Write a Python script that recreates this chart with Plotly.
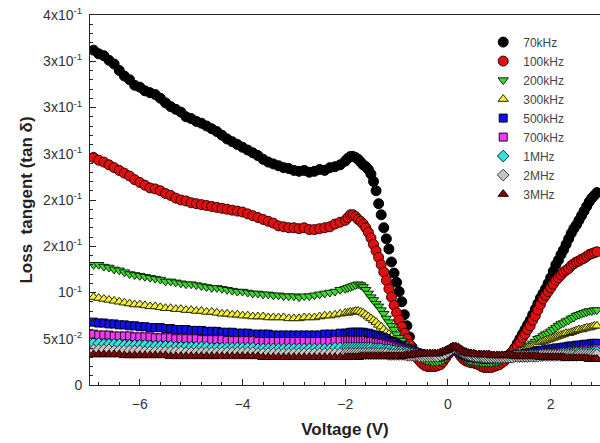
import plotly.graph_objects as go

# Bias sweep (V): 0.1 V steps up to -2.0 V, then 0.05 V steps
voltage = [
    -6.9, -6.8, -6.7, -6.6, -6.5, -6.4, -6.3, -6.2, -6.1, -6.0,
    -5.9, -5.8, -5.7, -5.6, -5.5, -5.4, -5.3, -5.2, -5.1, -5.0,
    -4.9, -4.8, -4.7, -4.6, -4.5, -4.4, -4.3, -4.2, -4.1, -4.0,
    -3.9, -3.8, -3.7, -3.6, -3.5, -3.4, -3.3, -3.2, -3.1, -3.0,
    -2.9, -2.8, -2.7, -2.6, -2.5, -2.4, -2.3, -2.2, -2.1, -2.0,
    -1.95, -1.90, -1.85, -1.80, -1.75, -1.70, -1.65, -1.60, -1.55, -1.50,
    -1.45, -1.40, -1.35, -1.30, -1.25, -1.20, -1.15, -1.10, -1.05, -1.00,
    -0.95, -0.90, -0.85, -0.80, -0.75, -0.70, -0.65, -0.60, -0.55, -0.50,
    -0.45, -0.40, -0.35, -0.30, -0.25, -0.20, -0.15, -0.10, -0.05, 0.00,
    0.05, 0.10, 0.15, 0.20, 0.25, 0.30, 0.35, 0.40, 0.45, 0.50,
    0.55, 0.60, 0.65, 0.70, 0.75, 0.80, 0.85, 0.90, 0.95, 1.00,
    1.05, 1.10, 1.15, 1.20, 1.25, 1.30, 1.35, 1.40, 1.45, 1.50,
    1.55, 1.60, 1.65, 1.70, 1.75, 1.80, 1.85, 1.90, 1.95, 2.00,
    2.05, 2.10, 2.15, 2.20, 2.25, 2.30, 2.35, 2.40, 2.45, 2.50,
    2.55, 2.60, 2.65, 2.70, 2.75, 2.80, 2.85, 2.90,
]

tan_70k = [
    0.362, 0.358, 0.356, 0.351, 0.347, 0.340, 0.334, 0.330, 0.324, 0.322,
    0.318, 0.316, 0.314, 0.310, 0.305, 0.301, 0.298, 0.295, 0.290, 0.288,
    0.285, 0.283, 0.280, 0.277, 0.274, 0.270, 0.266, 0.263, 0.260, 0.257,
    0.254, 0.251, 0.248, 0.244, 0.241, 0.239, 0.237, 0.235, 0.234, 0.232,
    0.231, 0.232, 0.230, 0.231, 0.233, 0.232, 0.235, 0.236, 0.238, 0.242,
    0.245, 0.247, 0.247, 0.246, 0.244, 0.241, 0.238, 0.236, 0.233, 0.228,
    0.220, 0.210, 0.196, 0.184, 0.170, 0.158, 0.147, 0.133, 0.121, 0.111,
    0.101, 0.090, 0.076, 0.064, 0.052, 0.041, 0.034, 0.030, 0.027, 0.025,
    0.024, 0.023, 0.022, 0.022, 0.022, 0.023, 0.024, 0.026, 0.030, 0.034,
    0.038, 0.040, 0.039, 0.036, 0.032, 0.029, 0.027, 0.026, 0.025, 0.024,
    0.023, 0.022, 0.021, 0.020, 0.020, 0.020, 0.021, 0.022, 0.024, 0.026,
    0.028, 0.030, 0.031, 0.033, 0.036, 0.040, 0.045, 0.050, 0.055, 0.060,
    0.065, 0.070, 0.076, 0.082, 0.088, 0.094, 0.099, 0.104, 0.110, 0.116,
    0.123, 0.130, 0.135, 0.141, 0.146, 0.152, 0.158, 0.164, 0.169, 0.173,
    0.178, 0.183, 0.188, 0.193, 0.198, 0.202, 0.205, 0.208,
]

tan_100k = [
    0.246, 0.243, 0.241, 0.238, 0.235, 0.232, 0.229, 0.226, 0.222, 0.219,
    0.216, 0.213, 0.212, 0.210, 0.207, 0.205, 0.202, 0.200, 0.199, 0.197,
    0.196, 0.195, 0.194, 0.193, 0.192, 0.191, 0.190, 0.189, 0.188, 0.187,
    0.185, 0.183, 0.181, 0.179, 0.177, 0.175, 0.172, 0.171, 0.170, 0.170,
    0.169, 0.170, 0.168, 0.168, 0.169, 0.170, 0.171, 0.174, 0.176, 0.178,
    0.181, 0.184, 0.184, 0.182, 0.179, 0.177, 0.174, 0.170, 0.165, 0.159,
    0.152, 0.145, 0.138, 0.130, 0.122, 0.113, 0.104, 0.095, 0.086, 0.078,
    0.070, 0.063, 0.056, 0.050, 0.044, 0.038, 0.033, 0.029, 0.026, 0.023,
    0.021, 0.020, 0.020, 0.020, 0.020, 0.021, 0.022, 0.025, 0.029, 0.033,
    0.037, 0.039, 0.038, 0.035, 0.031, 0.028, 0.026, 0.025, 0.024, 0.024,
    0.023, 0.022, 0.020, 0.019, 0.019, 0.019, 0.019, 0.020, 0.021, 0.022,
    0.024, 0.026, 0.029, 0.032, 0.035, 0.039, 0.042, 0.046, 0.051, 0.055,
    0.060, 0.064, 0.070, 0.075, 0.081, 0.087, 0.093, 0.097, 0.101, 0.105,
    0.109, 0.113, 0.116, 0.119, 0.122, 0.124, 0.126, 0.129, 0.131, 0.133,
    0.134, 0.136, 0.137, 0.139, 0.141, 0.142, 0.143, 0.144,
]

tan_200k = [
    0.130, 0.130, 0.128, 0.127, 0.125, 0.124, 0.122, 0.120, 0.119, 0.118,
    0.117, 0.116, 0.115, 0.114, 0.112, 0.112, 0.111, 0.110, 0.109, 0.109,
    0.108, 0.107, 0.106, 0.105, 0.105, 0.104, 0.103, 0.102, 0.101, 0.101,
    0.100, 0.099, 0.099, 0.098, 0.098, 0.097, 0.097, 0.096, 0.096, 0.096,
    0.095, 0.096, 0.096, 0.097, 0.098, 0.099, 0.100, 0.101, 0.103, 0.104,
    0.105, 0.106, 0.107, 0.108, 0.109, 0.108, 0.106, 0.103, 0.099, 0.095,
    0.092, 0.088, 0.085, 0.081, 0.077, 0.072, 0.068, 0.064, 0.060, 0.055,
    0.051, 0.048, 0.044, 0.041, 0.038, 0.035, 0.033, 0.031, 0.029, 0.028,
    0.027, 0.026, 0.026, 0.025, 0.025, 0.025, 0.026, 0.027, 0.029, 0.032,
    0.035, 0.037, 0.037, 0.035, 0.032, 0.030, 0.028, 0.027, 0.026, 0.026,
    0.025, 0.025, 0.024, 0.024, 0.024, 0.024, 0.024, 0.025, 0.025, 0.026,
    0.027, 0.028, 0.029, 0.031, 0.032, 0.033, 0.035, 0.036, 0.037, 0.039,
    0.041, 0.043, 0.045, 0.047, 0.050, 0.051, 0.053, 0.055, 0.056, 0.058,
    0.060, 0.062, 0.064, 0.066, 0.067, 0.069, 0.070, 0.072, 0.073, 0.075,
    0.076, 0.077, 0.078, 0.079, 0.080, 0.080, 0.081, 0.081,
]

tan_300k = [
    0.095, 0.094, 0.093, 0.092, 0.091, 0.090, 0.089, 0.088, 0.087, 0.087,
    0.086, 0.085, 0.085, 0.084, 0.083, 0.083, 0.082, 0.082, 0.081, 0.081,
    0.080, 0.080, 0.079, 0.079, 0.078, 0.077, 0.077, 0.076, 0.076, 0.075,
    0.075, 0.074, 0.074, 0.074, 0.073, 0.073, 0.073, 0.073, 0.072, 0.072,
    0.072, 0.073, 0.073, 0.073, 0.074, 0.075, 0.075, 0.076, 0.077, 0.078,
    0.078, 0.079, 0.079, 0.080, 0.080, 0.079, 0.078, 0.076, 0.074, 0.072,
    0.070, 0.068, 0.065, 0.063, 0.060, 0.057, 0.055, 0.052, 0.049, 0.047,
    0.045, 0.043, 0.041, 0.039, 0.037, 0.035, 0.034, 0.033, 0.032, 0.031,
    0.030, 0.029, 0.029, 0.028, 0.028, 0.028, 0.029, 0.030, 0.032, 0.034,
    0.036, 0.038, 0.038, 0.036, 0.034, 0.032, 0.030, 0.029, 0.028, 0.028,
    0.027, 0.027, 0.027, 0.026, 0.026, 0.026, 0.026, 0.027, 0.027, 0.028,
    0.028, 0.029, 0.030, 0.031, 0.032, 0.033, 0.034, 0.036, 0.037, 0.038,
    0.040, 0.041, 0.042, 0.043, 0.044, 0.046, 0.047, 0.048, 0.049, 0.050,
    0.051, 0.052, 0.053, 0.054, 0.055, 0.056, 0.056, 0.057, 0.058, 0.059,
    0.060, 0.060, 0.061, 0.062, 0.062, 0.063, 0.064, 0.064,
]

tan_500k = [
    0.068, 0.067, 0.067, 0.066, 0.066, 0.065, 0.065, 0.064, 0.064, 0.063,
    0.063, 0.062, 0.062, 0.062, 0.061, 0.061, 0.060, 0.060, 0.060, 0.059,
    0.059, 0.059, 0.058, 0.058, 0.058, 0.057, 0.057, 0.057, 0.056, 0.056,
    0.056, 0.055, 0.055, 0.055, 0.055, 0.054, 0.054, 0.054, 0.054, 0.054,
    0.054, 0.054, 0.054, 0.054, 0.054, 0.055, 0.055, 0.055, 0.056, 0.056,
    0.056, 0.057, 0.057, 0.057, 0.057, 0.057, 0.057, 0.056, 0.056, 0.055,
    0.054, 0.054, 0.053, 0.052, 0.051, 0.050, 0.048, 0.047, 0.046, 0.044,
    0.043, 0.042, 0.040, 0.039, 0.038, 0.037, 0.036, 0.035, 0.034, 0.033,
    0.032, 0.031, 0.031, 0.030, 0.030, 0.030, 0.031, 0.032, 0.033, 0.035,
    0.037, 0.039, 0.039, 0.037, 0.035, 0.033, 0.032, 0.031, 0.030, 0.030,
    0.029, 0.029, 0.029, 0.028, 0.028, 0.028, 0.028, 0.028, 0.029, 0.029,
    0.029, 0.030, 0.030, 0.031, 0.031, 0.032, 0.032, 0.033, 0.033, 0.034,
    0.034, 0.035, 0.035, 0.036, 0.036, 0.037, 0.037, 0.038, 0.038, 0.039,
    0.039, 0.040, 0.040, 0.040, 0.041, 0.041, 0.042, 0.042, 0.042, 0.043,
    0.043, 0.043, 0.044, 0.044, 0.044, 0.045, 0.045, 0.045,
]

tan_700k = [
    0.055, 0.054, 0.054, 0.054, 0.053, 0.053, 0.053, 0.053, 0.052, 0.052,
    0.052, 0.052, 0.051, 0.051, 0.051, 0.051, 0.050, 0.050, 0.050, 0.050,
    0.050, 0.049, 0.049, 0.049, 0.049, 0.049, 0.048, 0.048, 0.048, 0.048,
    0.048, 0.048, 0.047, 0.047, 0.047, 0.047, 0.047, 0.047, 0.047, 0.047,
    0.047, 0.047, 0.047, 0.047, 0.047, 0.047, 0.047, 0.048, 0.048, 0.048,
    0.048, 0.048, 0.048, 0.048, 0.048, 0.048, 0.048, 0.048, 0.047, 0.047,
    0.047, 0.046, 0.046, 0.045, 0.045, 0.044, 0.043, 0.043, 0.042, 0.041,
    0.040, 0.039, 0.038, 0.038, 0.037, 0.036, 0.035, 0.035, 0.034, 0.033,
    0.033, 0.032, 0.032, 0.031, 0.031, 0.031, 0.032, 0.033, 0.034, 0.036,
    0.038, 0.039, 0.039, 0.038, 0.036, 0.034, 0.033, 0.032, 0.031, 0.031,
    0.030, 0.030, 0.030, 0.029, 0.029, 0.029, 0.029, 0.029, 0.029, 0.030,
    0.030, 0.030, 0.030, 0.031, 0.031, 0.031, 0.031, 0.032, 0.032, 0.032,
    0.032, 0.033, 0.033, 0.033, 0.033, 0.034, 0.034, 0.034, 0.034, 0.035,
    0.035, 0.035, 0.035, 0.036, 0.036, 0.036, 0.036, 0.037, 0.037, 0.037,
    0.037, 0.037, 0.038, 0.038, 0.038, 0.038, 0.038, 0.039,
]

tan_1M = [
    0.045, 0.045, 0.044, 0.044, 0.044, 0.044, 0.043, 0.043, 0.043, 0.043,
    0.043, 0.042, 0.042, 0.042, 0.042, 0.042, 0.041, 0.041, 0.041, 0.041,
    0.041, 0.041, 0.041, 0.040, 0.040, 0.040, 0.040, 0.040, 0.040, 0.040,
    0.040, 0.040, 0.039, 0.039, 0.039, 0.039, 0.039, 0.039, 0.039, 0.039,
    0.039, 0.039, 0.039, 0.039, 0.039, 0.039, 0.039, 0.040, 0.040, 0.040,
    0.040, 0.040, 0.040, 0.040, 0.040, 0.040, 0.040, 0.040, 0.040, 0.040,
    0.039, 0.039, 0.039, 0.039, 0.038, 0.038, 0.038, 0.037, 0.037, 0.036,
    0.036, 0.036, 0.035, 0.035, 0.034, 0.034, 0.033, 0.033, 0.033, 0.032,
    0.032, 0.032, 0.031, 0.031, 0.031, 0.031, 0.032, 0.033, 0.034, 0.036,
    0.038, 0.040, 0.040, 0.039, 0.037, 0.035, 0.034, 0.033, 0.032, 0.031,
    0.031, 0.030, 0.030, 0.030, 0.030, 0.029, 0.029, 0.029, 0.029, 0.029,
    0.030, 0.030, 0.030, 0.030, 0.030, 0.031, 0.031, 0.031, 0.031, 0.031,
    0.031, 0.032, 0.032, 0.032, 0.032, 0.032, 0.032, 0.033, 0.033, 0.033,
    0.033, 0.033, 0.033, 0.034, 0.034, 0.034, 0.034, 0.034, 0.034, 0.035,
    0.035, 0.035, 0.035, 0.035, 0.035, 0.035, 0.036, 0.036,
]

tan_2M = [
    0.038, 0.038, 0.038, 0.038, 0.037, 0.037, 0.037, 0.037, 0.037, 0.037,
    0.036, 0.036, 0.036, 0.036, 0.036, 0.036, 0.036, 0.036, 0.035, 0.035,
    0.035, 0.035, 0.035, 0.035, 0.035, 0.035, 0.035, 0.035, 0.035, 0.035,
    0.035, 0.035, 0.034, 0.034, 0.034, 0.034, 0.034, 0.034, 0.034, 0.034,
    0.034, 0.034, 0.034, 0.034, 0.034, 0.034, 0.034, 0.034, 0.034, 0.034,
    0.034, 0.034, 0.034, 0.034, 0.034, 0.034, 0.034, 0.034, 0.034, 0.034,
    0.034, 0.034, 0.034, 0.034, 0.034, 0.034, 0.033, 0.033, 0.033, 0.033,
    0.033, 0.033, 0.033, 0.032, 0.032, 0.032, 0.032, 0.032, 0.031, 0.031,
    0.031, 0.031, 0.031, 0.031, 0.031, 0.031, 0.032, 0.033, 0.034, 0.036,
    0.038, 0.040, 0.040, 0.039, 0.037, 0.035, 0.034, 0.033, 0.032, 0.032,
    0.031, 0.031, 0.031, 0.030, 0.030, 0.030, 0.030, 0.030, 0.030, 0.030,
    0.030, 0.030, 0.030, 0.030, 0.030, 0.031, 0.031, 0.031, 0.031, 0.031,
    0.031, 0.031, 0.031, 0.031, 0.031, 0.032, 0.032, 0.032, 0.032, 0.032,
    0.032, 0.032, 0.032, 0.032, 0.032, 0.032, 0.032, 0.032, 0.032, 0.032,
    0.033, 0.033, 0.033, 0.033, 0.033, 0.033, 0.033, 0.033,
]

tan_3M = [
    0.033, 0.033, 0.033, 0.033, 0.033, 0.033, 0.032, 0.032, 0.032, 0.032,
    0.032, 0.032, 0.032, 0.032, 0.032, 0.031, 0.031, 0.031, 0.031, 0.031,
    0.031, 0.031, 0.031, 0.031, 0.031, 0.031, 0.031, 0.031, 0.031, 0.031,
    0.031, 0.031, 0.031, 0.030, 0.030, 0.030, 0.030, 0.030, 0.030, 0.030,
    0.030, 0.030, 0.030, 0.030, 0.030, 0.030, 0.030, 0.030, 0.030, 0.030,
    0.030, 0.030, 0.030, 0.030, 0.030, 0.031, 0.031, 0.031, 0.031, 0.031,
    0.031, 0.031, 0.031, 0.031, 0.031, 0.031, 0.031, 0.031, 0.031, 0.031,
    0.031, 0.031, 0.032, 0.032, 0.032, 0.033, 0.033, 0.033, 0.034, 0.034,
    0.034, 0.034, 0.034, 0.034, 0.034, 0.034, 0.035, 0.036, 0.037, 0.038,
    0.040, 0.041, 0.041, 0.040, 0.038, 0.036, 0.035, 0.034, 0.034, 0.034,
    0.033, 0.033, 0.033, 0.033, 0.033, 0.033, 0.032, 0.032, 0.032, 0.032,
    0.032, 0.032, 0.032, 0.032, 0.032, 0.031, 0.031, 0.031, 0.031, 0.031,
    0.031, 0.031, 0.031, 0.031, 0.031, 0.030, 0.030, 0.030, 0.030, 0.030,
    0.030, 0.030, 0.030, 0.030, 0.030, 0.029, 0.029, 0.029, 0.029, 0.029,
    0.029, 0.029, 0.029, 0.029, 0.028, 0.028, 0.028, 0.028,
]

frequencies = ["70kHz", "100kHz", "200kHz", "300kHz", "500kHz",
               "700kHz", "1MHz", "2MHz", "3MHz"]
series = [tan_70k, tan_100k, tan_200k, tan_300k, tan_500k,
          tan_700k, tan_1M, tan_2M, tan_3M]

y_ticks = [0, 0.05, 0.10, 0.15, 0.20, 0.25, 0.30, 0.35, 0.40]
y_tick_text = ["0", "5x10<sup>-2</sup>", "10<sup>-1</sup>",
               "2x10<sup>-1</sup>", "2x10<sup>-1</sup>", "3x10<sup>-1</sup>",
               "3x10<sup>-1</sup>", "3x10<sup>-1</sup>", "4x10<sup>-1</sup>"]

for name, vals in zip(frequencies, series):
    if len(vals) != len(voltage):
        raise ValueError(f"{name}: {len(vals)} values for {len(voltage)} voltages")

# marker style per frequency: symbol, size, fill, outline
styles = [
    ("circle", 10, "#000000", "#000000"),
    ("circle", 10, "#e01010", "#3a0000"),
    ("triangle-down", 9, "#3fd62f", "#0c2a08"),
    ("triangle-up", 9, "#f2f03a", "#2a2600"),
    ("square", 8, "#1010e6", "#00002a"),
    ("square", 8, "#f03cf0", "#2a002a"),
    ("diamond", 9, "#35e0e0", "#003030"),
    ("diamond", 9, "#c4c4c4", "#3a3a3a"),
    ("triangle-up", 9, "#7a0808", "#200000"),
]

FONT = "Arial, 'Liberation Sans', sans-serif"

fig = go.Figure()
for name, vals, (sym, size, fill, edge) in zip(frequencies, series, styles):
    fig.add_trace(go.Scatter(
        x=voltage, y=vals, mode="markers", name=name,
        marker=dict(symbol=sym, size=size, color=fill,
                    line=dict(color=edge, width=1)),
    ))

fig.update_layout(
    width=600, height=443,
    margin=dict(l=90, r=0, t=15, b=58),
    paper_bgcolor="white", plot_bgcolor="white",
    font=dict(family=FONT, color="#333333"),
    legend=dict(x=0.771, y=0.966, xanchor="left", yanchor="top",
                bgcolor="rgba(0,0,0,0)", font=dict(size=12, color="#444444"),
                itemsizing="trace"),
    showlegend=True,
)

fig.update_xaxes(
    range=[-6.97, 2.96], tick0=0, dtick=2,
    ticks="inside", ticklen=6, tickwidth=1, tickcolor="#222222",
    minor=dict(dtick=0.4, tick0=0, ticks="inside", ticklen=3,
               tickcolor="#222222"),
    showline=True, linecolor="#222222", linewidth=1, mirror=True,
    showgrid=False, zeroline=False,
    tickfont=dict(size=14, color="#333333"), ticklabelstandoff=6,
    title=dict(text="<b>Voltage (V)</b>", font=dict(size=17, color="#222222"),
               standoff=12),
)

fig.update_yaxes(
    range=[0, 0.4], tickvals=y_ticks, ticktext=y_tick_text,
    ticks="inside", ticklen=6, tickwidth=1, tickcolor="#222222",
    minor=dict(dtick=0.01, tick0=0, ticks="inside", ticklen=3,
               tickcolor="#222222"),
    showline=True, linecolor="#222222", linewidth=1, mirror=False,
    showgrid=False, zeroline=False,
    tickfont=dict(size=14, color="#333333"), ticklabelstandoff=4,
    title=dict(text="<b>Loss  tangent (tan δ)</b>",
               font=dict(size=17, color="#222222"), standoff=6),
)

fig.write_html("out.html")
